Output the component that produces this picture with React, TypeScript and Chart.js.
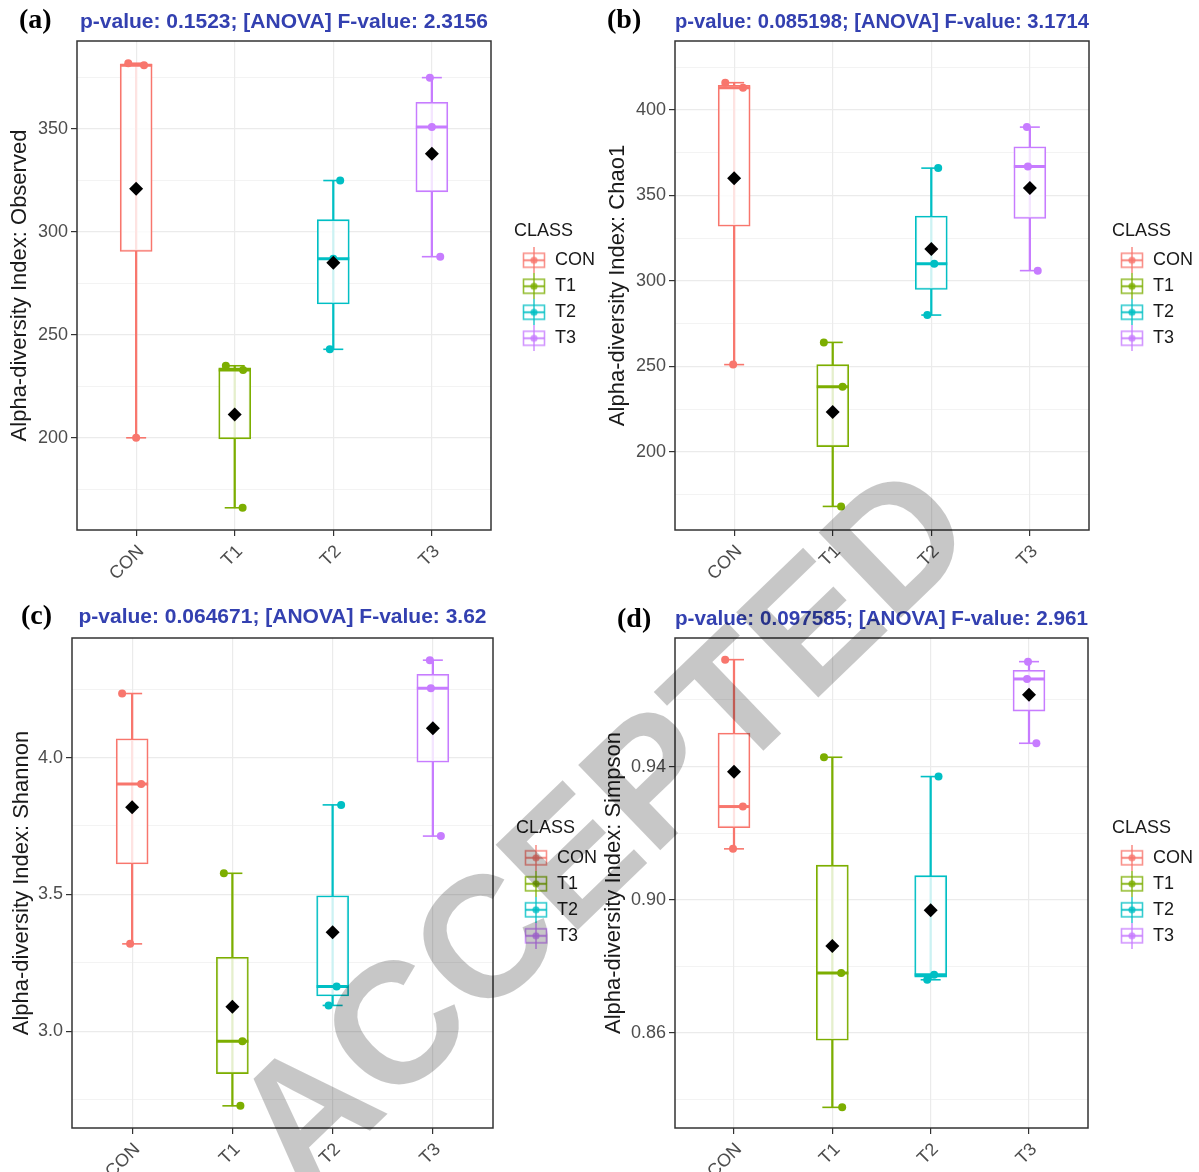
import React, { useEffect, useRef } from 'react';
import { Chart, registerables } from 'chart.js';

Chart.register(...registerables);

// ---------------- data ----------------
const CATEGORIES = ['CON', 'T1', 'T2', 'T3'];
const CLASS_COLORS = ['#F8766D', '#7CAE00', '#00BFC4', '#C77CFF'];

// Observed (three samples per class)
const OBSERVED_CON = [200, 381, 382];
const OBSERVED_T1 = [166, 233, 235];
const OBSERVED_T2 = [243, 287, 325];
const OBSERVED_T3 = [288, 351, 375];

// Chao1
const CHAO1_CON = [251, 413, 416];
const CHAO1_T1 = [168, 238, 264];
const CHAO1_T2 = [280, 310, 366];
const CHAO1_T3 = [306, 367, 390];

// Shannon
const SHANNON_CON = [3.319, 3.903, 4.234];
const SHANNON_T1 = [2.727, 2.963, 3.577];
const SHANNON_T2 = [3.094, 3.163, 3.827];
const SHANNON_T3 = [3.713, 4.253, 4.356];

// Simpson
const SIMPSON_CON = [0.9153, 0.928, 0.9721];
const SIMPSON_T1 = [0.8377, 0.878, 0.9428];
const SIMPSON_T2 = [0.876, 0.8775, 0.937];
const SIMPSON_T3 = [0.947, 0.9663, 0.9715];

// jitter of each sample (category units)
const OBSERVED_JITTER = [[0, 0.08, -0.08], [0.08, 0.085, -0.09], [-0.035, 0, 0.07], [0.085, 0, -0.02]];
const CHAO1_JITTER = [[-0.01, 0.09, -0.09], [0.085, 0.1, -0.09], [-0.04, 0.03, 0.07], [0.08, -0.02, -0.03]];
const SHANNON_JITTER = [[-0.02, 0.09, -0.1], [0.08, 0.1, -0.085], [-0.04, 0.04, 0.085], [0.08, -0.02, -0.03]];
const SIMPSON_JITTER = [[-0.01, 0.09, -0.09], [0.1, 0.09, -0.085], [-0.035, 0.035, 0.08], [0.075, -0.02, -0.01]];

// axis ticks
const OBSERVED_MAJOR = [200, 250, 300, 350];
const OBSERVED_MINOR = [175, 225, 275, 325, 375];
const CHAO1_MAJOR = [200, 250, 300, 350, 400];
const CHAO1_MINOR = [175, 225, 275, 325, 375, 425];
const SHANNON_MAJOR = [3.0, 3.5, 4.0];
const SHANNON_MINOR = [2.75, 3.25, 3.75, 4.25];
const SIMPSON_MAJOR = [0.86, 0.9, 0.94];
const SIMPSON_MINOR = [0.84, 0.88, 0.92, 0.96];

// axis ranges
const OBSERVED_RANGE = [155.2, 392.8];
const CHAO1_RANGE = [154.2, 440.4];
const SHANNON_RANGE = [2.646, 4.437];
const SIMPSON_RANGE = [0.8315, 0.9786];

const TITLES = [
  'p-value: 0.1523; [ANOVA] F-value: 2.3156',
  'p-value: 0.085198; [ANOVA] F-value: 3.1714',
  'p-value: 0.064671; [ANOVA] F-value: 3.62',
  'p-value: 0.097585; [ANOVA] F-value: 2.961',
];
const Y_TITLES = [
  'Alpha-diversity Index: Observed',
  'Alpha-diversity Index: Chao1',
  'Alpha-diversity Index: Shannon',
  'Alpha-diversity Index: Simpson',
];
const PANEL_LETTERS = ['(a)', '(b)', '(c)', '(d)'];

// ---------------- helpers ----------------
const SANS = "'Liberation Sans', Arial, Helvetica, sans-serif";

function quantile(sorted: number[], p: number) {
  const h = (sorted.length - 1) * p;
  const lo = Math.floor(h);
  const hi = Math.min(lo + 1, sorted.length - 1);
  return sorted[lo] + (h - lo) * (sorted[hi] - sorted[lo]);
}

function boxStats(values: number[]) {
  const s = [...values].sort((a, b) => a - b);
  const q1 = quantile(s, 0.25);
  const med = quantile(s, 0.5);
  const q3 = quantile(s, 0.75);
  const iqr = q3 - q1;
  const inside = s.filter((v) => v >= q1 - 1.5 * iqr && v <= q3 + 1.5 * iqr);
  const mean = s.reduce((a, b) => a + b, 0) / s.length;
  return { q1, med, q3, lo: inside[0], hi: inside[inside.length - 1], mean };
}

function makeGlyph(color: string) {
  const c = document.createElement('canvas');
  c.width = 24;
  c.height = 26;
  const g = c.getContext('2d')!;
  g.globalAlpha = 0.8;
  g.strokeStyle = color;
  g.fillStyle = color;
  g.lineWidth = 1.6;
  g.beginPath();
  g.moveTo(12, 0);
  g.lineTo(12, 26);
  g.stroke();
  g.strokeRect(1.5, 6, 21, 14);
  g.lineWidth = 2.2;
  g.beginPath();
  g.moveTo(1.5, 13);
  g.lineTo(22.5, 13);
  g.stroke();
  g.beginPath();
  g.arc(12, 13, 3.6, 0, Math.PI * 2);
  g.fill();
  return c;
}

const panelBorder = {
  id: 'panelBorder',
  afterDraw(chart: any) {
    const { ctx, chartArea } = chart;
    const { left, top, right, bottom } = chartArea;
    ctx.save();
    ctx.strokeStyle = '#333333';
    ctx.lineWidth = 1.5;
    ctx.strokeRect(left, top, right - left, bottom - top);
    ctx.restore();
  },
};

type PanelCfg = {
  samples: number[][];
  jitter: number[][];
  major: number[];
  minor: number[];
  decimals: number;
  range: number[];
  title: string;
  yTitle: string;
  // layout (px)
  left: number;
  top: number;
  width: number;
  height: number;
  yAxisW: number;
  xAxisH: number;
  yTitlePad: number;
  titlePadTop: number;
  titlePadBottom: number;
  legendGap: number;
  padRight: number;
};

const LEGEND_WIDTH = 86;

function Panel({ cfg }: { cfg: PanelCfg }) {
  const ref = useRef<HTMLCanvasElement | null>(null);

  useEffect(() => {
    const canvas = ref.current;
    if (!canvas) return;
    const stats = cfg.samples.map(boxStats);
    const glyphs = CLASS_COLORS.map(makeGlyph);
    const allTicks = [...cfg.major, ...cfg.minor].sort((a, b) => a - b);
    const isMajor = (v: number) => cfg.major.some((m) => Math.abs(m - v) < 1e-9);

    const pointData: { x: number; y: number }[] = [];
    const pointColors: string[] = [];
    cfg.samples.forEach((arr, i) =>
      arr.forEach((v, j) => {
        pointData.push({ x: i + 1 + cfg.jitter[i][j], y: v });
        pointColors.push(CLASS_COLORS[i]);
      })
    );

    const chart = new Chart(canvas, {
      type: 'scatter',
      data: {
        datasets: [
          {
            type: 'bar',
            label: 'whisker',
            data: stats.map((s, i) => ({ x: i + 1, y: [s.lo, s.hi] })) as any,
            backgroundColor: CLASS_COLORS,
            borderWidth: 0,
            barThickness: 1.6,
            grouped: false,
            order: 6,
            xAxisID: 'x',
            yAxisID: 'y',
          } as any,
          {
            type: 'bar',
            label: 'box',
            data: stats.map((s, i) => ({ x: i + 1, y: [s.q1, s.q3] })) as any,
            backgroundColor: 'rgba(255,255,255,0.8)',
            borderColor: CLASS_COLORS,
            borderWidth: 1.6,
            borderSkipped: false,
            barThickness: 32,
            grouped: false,
            order: 5,
            xAxisID: 'x',
            yAxisID: 'y',
          } as any,
          {
            type: 'scatter',
            label: 'caps',
            data: stats.flatMap((s, i) => [
              { x: i + 1, y: s.lo },
              { x: i + 1, y: s.hi },
            ]),
            pointStyle: 'line',
            pointRadius: 10,
            pointBorderWidth: 1.6,
            pointBorderColor: stats.flatMap((_, i) => [CLASS_COLORS[i], CLASS_COLORS[i]]),
            order: 4,
            xAxisID: 'x',
            yAxisID: 'y',
          } as any,
          {
            type: 'scatter',
            label: 'median',
            data: stats.map((s, i) => ({ x: i + 1, y: s.med })),
            pointStyle: 'line',
            pointRadius: 16,
            pointBorderWidth: 3,
            pointBorderColor: CLASS_COLORS,
            order: 3,
            xAxisID: 'x',
            yAxisID: 'y',
          } as any,
          {
            type: 'scatter',
            label: 'samples',
            data: pointData,
            pointStyle: 'circle',
            pointRadius: 4,
            pointBorderWidth: 0,
            pointBackgroundColor: pointColors,
            pointBorderColor: pointColors,
            order: 2,
            xAxisID: 'x',
            yAxisID: 'y',
          } as any,
          {
            type: 'scatter',
            label: 'mean',
            data: stats.map((s, i) => ({ x: i + 1, y: s.mean })),
            pointStyle: 'rectRot',
            pointRadius: 7,
            pointBorderWidth: 0,
            pointBackgroundColor: '#000000',
            pointBorderColor: '#000000',
            order: 1,
            xAxisID: 'x',
            yAxisID: 'y',
          } as any,
        ],
      },
      options: {
        responsive: false,
        animation: false,
        events: [],
        layout: { padding: { left: 0, top: 0, bottom: 0, right: cfg.padRight } },
        scales: {
          x: {
            type: 'linear',
            min: 0.4,
            max: 4.6,
            offset: false,
            afterBuildTicks: (s: any) => {
              s.ticks = CATEGORIES.map((_, i) => ({ value: i + 1 }));
            },
            afterFit: (s: any) => {
              s.height = cfg.xAxisH;
            },
            ticks: {
              callback: (_v: any, i: number) => CATEGORIES[i],
              color: '#4d4d4d',
              font: { size: 18, family: SANS },
              minRotation: 45,
              maxRotation: 45,
              padding: 5,
              labelOffset: 5,
              autoSkip: false,
            },
            grid: {
              color: '#ebebeb',
              lineWidth: 1.2,
              tickColor: '#333333',
              tickLength: 6,
              offset: false,
            },
            border: { display: false },
          },
          y: {
            type: 'linear',
            position: 'left',
            min: cfg.range[0],
            max: cfg.range[1],
            afterBuildTicks: (s: any) => {
              s.ticks = allTicks.map((v) => ({ value: v }));
            },
            afterFit: (s: any) => {
              s.width = cfg.yAxisW;
            },
            ticks: {
              callback: (v: any) => (isMajor(Number(v)) ? Number(v).toFixed(cfg.decimals) : ''),
              color: '#4d4d4d',
              font: { size: 18, family: SANS },
              padding: 3,
              autoSkip: false,
            },
            grid: {
              color: '#ebebeb',
              lineWidth: (c: any) => (isMajor(c.tick.value) ? 1.2 : 0.6),
              tickColor: (c: any) => (isMajor(c.tick.value) ? '#333333' : 'rgba(0,0,0,0)'),
              tickLength: 6,
            },
            border: { display: false },
            title: {
              display: true,
              text: cfg.yTitle,
              color: '#1a1a1a',
              font: { size: 22, family: SANS },
              padding: { top: cfg.yTitlePad, bottom: 0 },
            },
          },
          yR: {
            type: 'linear',
            position: 'right',
            display: true,
            min: cfg.range[0],
            max: cfg.range[1],
            grid: { display: false, drawTicks: false },
            ticks: { display: false },
            border: { display: false },
            afterFit: (s: any) => {
              s.width = cfg.legendGap;
            },
          },
        },
        plugins: {
          tooltip: { enabled: false },
          title: {
            display: true,
            text: cfg.title,
            color: '#3340b0',
            align: 'center',
            fullSize: false,
            font: { size: 21, weight: 'bold', family: SANS },
            padding: { top: cfg.titlePadTop, bottom: cfg.titlePadBottom },
          },
          legend: {
            display: true,
            position: 'right',
            align: 'center',
            fullSize: false,
            maxWidth: LEGEND_WIDTH,
            onClick: () => {},
            title: {
              display: true,
              text: 'CLASS',
              position: 'start',
              color: '#1a1a1a',
              font: { size: 18, family: SANS },
              padding: { top: 6, bottom: 0 },
            },
            labels: {
              usePointStyle: true,
              pointStyleWidth: 24,
              padding: 8,
              color: '#1a1a1a',
              font: { size: 18, family: SANS },
              generateLabels: () =>
                CATEGORIES.map((c, i) => ({
                  text: c,
                  pointStyle: glyphs[i],
                  fillStyle: 'rgba(0,0,0,0)',
                  strokeStyle: 'rgba(0,0,0,0)',
                  lineWidth: 0,
                  hidden: false,
                  datasetIndex: 0,
                  fontColor: '#1a1a1a',
                })) as any,
            },
          },
        },
      } as any,
      plugins: [panelBorder],
    });
    return () => chart.destroy();
  }, [cfg]);

  return (
    <canvas
      ref={ref}
      width={cfg.width}
      height={cfg.height}
      style={{
        position: 'absolute',
        left: cfg.left,
        top: cfg.top,
        width: cfg.width,
        height: cfg.height,
      }}
    />
  );
}

const PANELS: PanelCfg[] = [
  {
    samples: [OBSERVED_CON, OBSERVED_T1, OBSERVED_T2, OBSERVED_T3],
    jitter: OBSERVED_JITTER,
    major: OBSERVED_MAJOR,
    minor: OBSERVED_MINOR,
    decimals: 0,
    range: OBSERVED_RANGE,
    title: TITLES[0],
    yTitle: Y_TITLES[0],
    left: 0,
    top: 0,
    width: 600,
    height: 590,
    yAxisW: 77,
    xAxisH: 60,
    yTitlePad: 6.8,
    titlePadTop: 9.4,
    titlePadBottom: 6.4,
    legendGap: 23,
    padRight: 0,
  },
  {
    samples: [CHAO1_CON, CHAO1_T1, CHAO1_T2, CHAO1_T3],
    jitter: CHAO1_JITTER,
    major: CHAO1_MAJOR,
    minor: CHAO1_MINOR,
    decimals: 0,
    range: CHAO1_RANGE,
    title: TITLES[1],
    yTitle: Y_TITLES[1],
    left: 598,
    top: 0,
    width: 601,
    height: 590,
    yAxisW: 77,
    xAxisH: 60,
    yTitlePad: 6.8,
    titlePadTop: 9.4,
    titlePadBottom: 6.4,
    legendGap: 23,
    padRight: 1,
  },
  {
    samples: [SHANNON_CON, SHANNON_T1, SHANNON_T2, SHANNON_T3],
    jitter: SHANNON_JITTER,
    major: SHANNON_MAJOR,
    minor: SHANNON_MINOR,
    decimals: 1,
    range: SHANNON_RANGE,
    title: TITLES[2],
    yTitle: Y_TITLES[2],
    left: 0,
    top: 595,
    width: 602,
    height: 577,
    yAxisW: 72,
    xAxisH: 44,
    yTitlePad: 8.8,
    titlePadTop: 9.4,
    titlePadBottom: 8.4,
    legendGap: 23,
    padRight: 0,
  },
  {
    samples: [SIMPSON_CON, SIMPSON_T1, SIMPSON_T2, SIMPSON_T3],
    jitter: SIMPSON_JITTER,
    major: SIMPSON_MAJOR,
    minor: SIMPSON_MINOR,
    decimals: 2,
    range: SIMPSON_RANGE,
    title: TITLES[3],
    yTitle: Y_TITLES[3],
    left: 598,
    top: 595,
    width: 601,
    height: 577,
    yAxisW: 77,
    xAxisH: 44,
    yTitlePad: 2.8,
    titlePadTop: 11.4,
    titlePadBottom: 6.4,
    legendGap: 24,
    padRight: 1,
  },
];

const LETTER_POS = [
  { left: 19, top: 5 },
  { left: 607, top: 5 },
  { left: 21, top: 601 },
  { left: 617, top: 604 },
];

export default function App() {
  return (
    <div
      style={{
        position: 'absolute',
        left: 0,
        top: 0,
        width: 1199,
        height: 1172,
        background: '#ffffff',
        overflow: 'hidden',
      }}
    >
      {PANELS.map((p, i) => (
        <Panel key={i} cfg={p} />
      ))}
      {PANEL_LETTERS.map((t, i) => (
        <div
          key={t}
          style={{
            position: 'absolute',
            left: LETTER_POS[i].left,
            top: LETTER_POS[i].top,
            fontFamily: "'Liberation Serif', 'Times New Roman', serif",
            fontWeight: 'bold',
            fontSize: 28,
            lineHeight: '28px',
            color: '#000',
            whiteSpace: 'nowrap',
          }}
        >
          {t}
        </div>
      ))}
      <div
        style={{
          position: 'absolute',
          left: 600,
          top: 825,
          transform: 'translate(-50%, -50%) rotate(-44deg)',
          fontFamily: SANS,
          fontWeight: 'bold',
          fontSize: 172,
          lineHeight: 1,
          color: 'rgba(0,0,0,0.22)',
          whiteSpace: 'nowrap',
          pointerEvents: 'none',
          zIndex: 5,
        }}
      >
        ACCEPTED
      </div>
    </div>
  );
}
